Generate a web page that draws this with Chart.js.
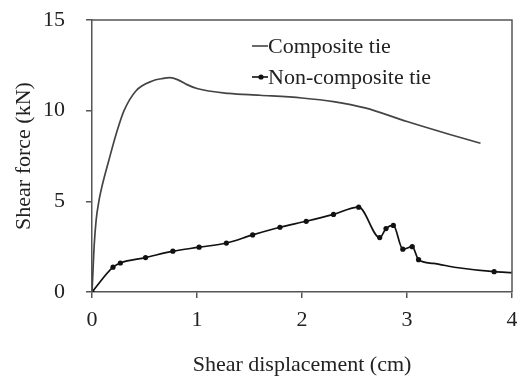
<!DOCTYPE html>
<html>
<head>
<meta charset="utf-8">
<script src="https://cdn.jsdelivr.net/npm/chart.js@4"></script>
<style>
    html, body { margin: 0; padding: 0; background: #fff; }
    #wrap { width: 517px; height: 380px; }
</style>
</head>
<body>
<div id="wrap"><canvas id="shearChart" width="517" height="380"></canvas></div>
<script>
// Data
const compositeX = [0, 0.008, 0.02, 0.04, 0.067, 0.09, 0.16, 0.24, 0.305, 0.42, 0.58, 0.66, 0.74, 0.82, 0.9, 1.0, 1.3, 1.6, 2.0, 2.3, 2.6, 3.0, 3.4, 3.7];
const compositeY = [0, 1.0, 2.5, 4.0, 5.05, 5.7, 7.25, 8.9, 10.0, 11.1, 11.65, 11.76, 11.82, 11.7, 11.45, 11.22, 10.95, 10.85, 10.7, 10.5, 10.15, 9.4, 8.7, 8.2];

// measured points (with markers)
const nonCompositeX = [0, 0.2, 0.27, 0.51, 0.77, 1.02, 1.28, 1.53, 1.79, 2.04, 2.3, 2.54, 2.74, 2.8, 2.87, 2.96, 3.05, 3.11, 3.83];
const nonCompositeY = [0, 1.37, 1.6, 1.9, 2.25, 2.47, 2.7, 3.15, 3.57, 3.9, 4.28, 4.68, 3.0, 3.5, 3.67, 2.36, 2.5, 1.78, 1.12];
// where the line runs between markers / past the last one (no markers)
const tailX = [3.25, 3.47, 4.0];
const tailY = [1.58, 1.35, 1.07];

const seriesNames = ['Composite tie', 'Non-composite tie'];
const xTicks = [0, 1, 2, 3, 4];
const yTicks = [0, 5, 10, 15];

const inkColor = '#222';
const frameColor = '#555';
const serif = '"Liberation Serif", "Times New Roman", serif';
const fontSize = 22;

const toPoints = (xs, ys, marked) => xs.map((x, i) => ({ x: x, y: ys[i], m: marked }));

const nonCompositePoints = toPoints(nonCompositeX, nonCompositeY, true)
    .concat(toPoints(tailX, tailY, false))
    .sort((a, b) => a.x - b.x);
const nonCompositeRadius = nonCompositePoints.map(p => p.m ? 2.6 : 0);

// Full box around the plot + legend inside the plot
const framePlugin = {
    id: 'frame',
    afterDraw(chart) {
        const { ctx, chartArea: a } = chart;
        ctx.save();
        ctx.strokeStyle = frameColor;
        ctx.lineWidth = 1.5;
        ctx.beginPath();
        ctx.moveTo(a.left, a.top);
        ctx.lineTo(a.right, a.top);
        ctx.lineTo(a.right, a.bottom);
        ctx.stroke();

        // legend
        ctx.font = fontSize + 'px ' + serif;
        ctx.textBaseline = 'middle';
        const x0 = 252, x1 = 268;
        const rows = [46, 77];
        chart.data.datasets.forEach((ds, i) => {
            const y = rows[i];
            ctx.strokeStyle = ds.borderColor;
            ctx.lineWidth = 1.6;
            ctx.beginPath();
            ctx.moveTo(x0, y);
            ctx.lineTo(x1, y);
            ctx.stroke();
            if (i === 1) {
                ctx.beginPath();
                ctx.arc(261, y, 2.6, 0, Math.PI * 2);
                ctx.fillStyle = ds.borderColor;
                ctx.fill();
            }
            ctx.fillStyle = inkColor;
            ctx.fillText(ds.label, x1, y + 1);
        });
        ctx.restore();
    }
};

const ctx = document.getElementById('shearChart').getContext('2d');
const shearChart = new Chart(ctx, {
    type: 'line',
    data: {
        datasets: [{
            label: seriesNames[0],
            data: toPoints(compositeX, compositeY, false),
            borderColor: '#444',
            borderWidth: 1.7,
            pointRadius: 0,
            cubicInterpolationMode: 'monotone',
            fill: false
        }, {
            label: seriesNames[1],
            data: nonCompositePoints,
            borderColor: '#111',
            backgroundColor: '#111',
            borderWidth: 1.7,
            pointRadius: nonCompositeRadius,
            pointBorderWidth: 0,
            cubicInterpolationMode: 'monotone',
            fill: false
        }]
    },
    options: {
        responsive: false,
        animation: false,
        layout: {
            autoPadding: false,
            padding: { left: 0, right: 5, top: 20, bottom: 0 }
        },
        plugins: {
            legend: { display: false },
            tooltip: { enabled: false }
        },
        scales: {
            x: {
                type: 'linear',
                min: 0,
                max: 4,
                afterFit: scale => {
                    scale.height = 88;
                    scale.paddingLeft = 0;
                    scale.paddingRight = 0;
                },
                afterBuildTicks: scale => { scale.ticks = xTicks.map(v => ({ value: v })); },
                ticks: {
                    color: inkColor,
                    padding: 9,
                    font: { family: serif, size: fontSize }
                },
                grid: { drawOnChartArea: false, drawTicks: true, tickLength: 6, color: frameColor, lineWidth: 1.5 },
                border: { display: true, color: frameColor, width: 1.5 },
                title: {
                    display: true,
                    text: 'Shear displacement (cm)',
                    color: inkColor,
                    font: { family: serif, size: fontSize },
                    padding: { top: 0, bottom: 2 }
                }
            },
            y: {
                type: 'linear',
                min: 0,
                max: 15,
                afterFit: scale => {
                    scale.width = 92;
                    scale.paddingTop = 0;
                    scale.paddingBottom = 0;
                },
                afterBuildTicks: scale => { scale.ticks = yTicks.map(v => ({ value: v })); },
                ticks: {
                    color: inkColor,
                    padding: 21,
                    font: { family: serif, size: fontSize }
                },
                grid: { drawOnChartArea: false, drawTicks: true, tickLength: 6, color: frameColor, lineWidth: 1.5 },
                border: { display: true, color: frameColor, width: 1.5 },
                title: {
                    display: true,
                    text: 'Shear force (kN)',
                    color: inkColor,
                    font: { family: serif, size: fontSize },
                    padding: { top: 11, bottom: 0 }
                }
            }
        }
    },
    plugins: [framePlugin]
});
</script>
</body>
</html>
